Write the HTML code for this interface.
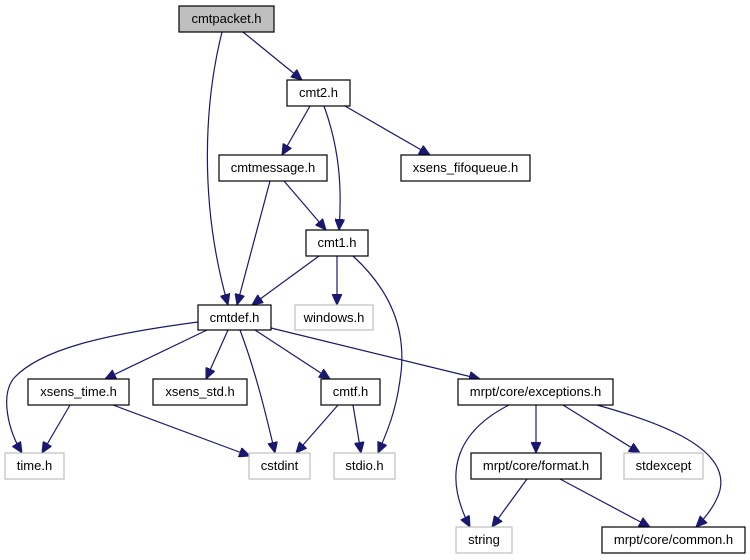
<!DOCTYPE html>
<html><head><meta charset="utf-8"><style>
html,body{margin:0;padding:0;background:#fff;width:750px;height:560px;overflow:hidden}
svg{display:block}
text{font-family:"Liberation Sans",sans-serif;font-size:13px;fill:#000;text-anchor:middle}
.n{fill:#fff;stroke:#000;stroke-width:1.2}
.g{fill:#fff;stroke:#bfbfbf;stroke-width:1.2}
.e{fill:none;stroke:#191970;stroke-width:1.2;marker-end:url(#a)}
</style></head><body>
<svg width="750" height="560" viewBox="0 0 750 560" xmlns="http://www.w3.org/2000/svg">
<defs><marker id="a" markerUnits="userSpaceOnUse" markerWidth="12" markerHeight="10" refX="11" refY="5" orient="auto"><path d="M0,0 L11,5 L0,10 z" fill="#191970" stroke="#191970"/></marker></defs>
<path class="e" d="M243,32 L302,80"/>
<path class="e" d="M222,32 C205,100 198,200 228,305"/>
<path class="e" d="M310,106 L282,155"/>
<path class="e" d="M324,106 C340,150 342,190 339,230"/>
<path class="e" d="M345,106 L430,155"/>
<path class="e" d="M270,181 L237,305"/>
<path class="e" d="M284,181 L326,230"/>
<path class="e" d="M319,256 L252,305"/>
<path class="e" d="M337,256 L337,305"/>
<path class="e" d="M353,256 C390,290 408,330 400,380 C396,410 388,430 378,453"/>
<path class="e" d="M198,322 C100,335 40,350 14,378 C0,395 8,430 22,453"/>
<path class="e" d="M207,330 L105,379"/>
<path class="e" d="M228,330 L206,379"/>
<path class="e" d="M240,330 C255,370 265,410 275,453"/>
<path class="e" d="M255,330 L330,379"/>
<path class="e" d="M271,328 L480,379"/>
<path class="e" d="M70,405 L42,453"/>
<path class="e" d="M113,405 L250,456"/>
<path class="e" d="M338,405 L296,453"/>
<path class="e" d="M353,405 L361,453"/>
<path class="e" d="M509,405 C460,430 440,470 470,527"/>
<path class="e" d="M536,405 L536,453"/>
<path class="e" d="M563,405 L640,453"/>
<path class="e" d="M597,405 C650,420 730,445 720,490 C716,505 705,518 696,527"/>
<path class="e" d="M527,479 L492,527"/>
<path class="e" d="M560,479 L650,527"/>

<rect x="179" y="6" width="95" height="26" fill="#bfbfbf" stroke="#000" stroke-width="1.2"/><text x="226.5" y="23">cmtpacket.h</text>
<rect class="n" x="287" y="80" width="63" height="26"/><text x="318.5" y="97">cmt2.h</text>
<rect class="n" x="219" y="155" width="108" height="26"/><text x="273" y="172">cmtmessage.h</text>
<rect class="n" x="401" y="155" width="129" height="26"/><text x="465.5" y="172">xsens_fifoqueue.h</text>
<rect class="n" x="306" y="230" width="62" height="26"/><text x="337" y="247">cmt1.h</text>
<rect class="n" x="198" y="305" width="73" height="25"/><text x="234.5" y="322">cmtdef.h</text>
<rect class="g" x="295" y="305" width="78" height="25"/><text x="334" y="322">windows.h</text>
<rect class="n" x="28" y="379" width="101" height="26"/><text x="78.5" y="396">xsens_time.h</text>
<rect class="n" x="153" y="379" width="94" height="26"/><text x="200" y="396">xsens_std.h</text>
<rect class="n" x="321" y="379" width="59" height="26"/><text x="350.5" y="396">cmtf.h</text>
<rect class="n" x="458" y="379" width="155" height="26"/><text x="535.5" y="396">mrpt/core/exceptions.h</text>
<rect class="g" x="5" y="453" width="59" height="26"/><text x="34.5" y="470">time.h</text>
<rect class="g" x="249" y="453" width="61" height="26"/><text x="279.5" y="470">cstdint</text>
<rect class="g" x="334" y="453" width="61" height="26"/><text x="364.5" y="470">stdio.h</text>
<rect class="n" x="471" y="453" width="130" height="26"/><text x="536" y="470">mrpt/core/format.h</text>
<rect class="g" x="624" y="453" width="79" height="26"/><text x="663.5" y="470">stdexcept</text>
<rect class="g" x="456" y="527" width="56" height="26"/><text x="484" y="544">string</text>
<rect class="n" x="602" y="527" width="143" height="26"/><text x="673.5" y="544">mrpt/core/common.h</text>
</svg>
</body></html>
